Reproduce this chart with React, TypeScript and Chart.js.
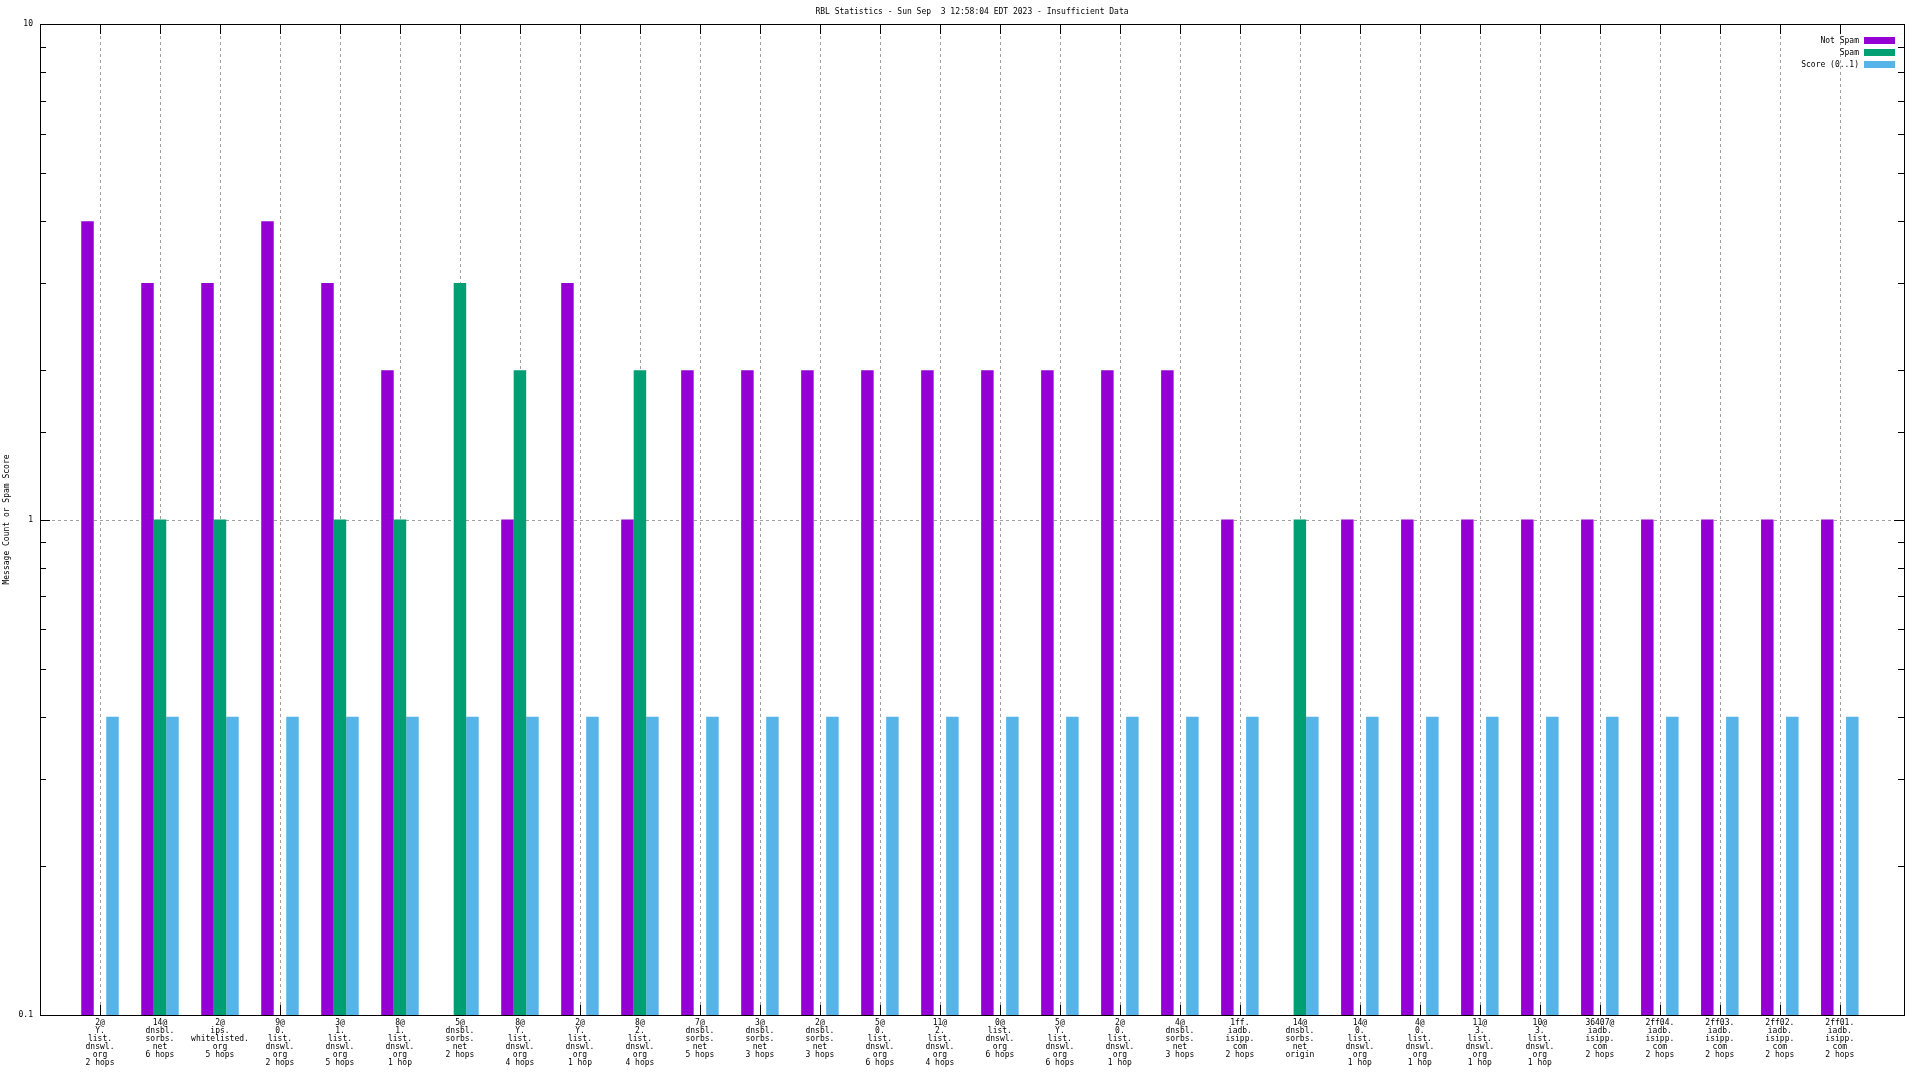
import React, { useEffect, useRef } from 'react';
import { Chart, registerables } from 'chart.js';

Chart.register(...registerables);

const TITLE = 'RBL Statistics - Sun Sep  3 12:58:04 EDT 2023 - Insufficient Data';
const Y_TITLE = 'Message Count or Spam Score';

const categories = [
  '2@\nY.\nlist.\ndnswl.\norg\n2 hops',
  '14@\ndnsbl.\nsorbs.\nnet\n6 hops',
  '2@\nips.\nwhitelisted.\norg\n5 hops',
  '9@\n0.\nlist.\ndnswl.\norg\n2 hops',
  '3@\n1.\nlist.\ndnswl.\norg\n5 hops',
  '8@\n1.\nlist.\ndnswl.\norg\n1 hop',
  '5@\ndnsbl.\nsorbs.\nnet\n2 hops',
  '8@\nY.\nlist.\ndnswl.\norg\n4 hops',
  '2@\nY.\nlist.\ndnswl.\norg\n1 hop',
  '8@\n2.\nlist.\ndnswl.\norg\n4 hops',
  '7@\ndnsbl.\nsorbs.\nnet\n5 hops',
  '3@\ndnsbl.\nsorbs.\nnet\n3 hops',
  '2@\ndnsbl.\nsorbs.\nnet\n3 hops',
  '5@\n0.\nlist.\ndnswl.\norg\n6 hops',
  '11@\n2.\nlist.\ndnswl.\norg\n4 hops',
  '0@\nlist.\ndnswl.\norg\n6 hops',
  '5@\nY.\nlist.\ndnswl.\norg\n6 hops',
  '2@\n0.\nlist.\ndnswl.\norg\n1 hop',
  '4@\ndnsbl.\nsorbs.\nnet\n3 hops',
  '1ff.\niadb.\nisipp.\ncom\n2 hops',
  '14@\ndnsbl.\nsorbs.\nnet\norigin',
  '14@\n0.\nlist.\ndnswl.\norg\n1 hop',
  '4@\n0.\nlist.\ndnswl.\norg\n1 hop',
  '11@\n3.\nlist.\ndnswl.\norg\n1 hop',
  '10@\n3.\nlist.\ndnswl.\norg\n1 hop',
  '36407@\niadb.\nisipp.\ncom\n2 hops',
  '2ff04.\niadb.\nisipp.\ncom\n2 hops',
  '2ff03.\niadb.\nisipp.\ncom\n2 hops',
  '2ff02.\niadb.\nisipp.\ncom\n2 hops',
  '2ff01.\niadb.\nisipp.\ncom\n2 hops',
];

const notSpam = [4, 3, 3, 4, 3, 2, null, 1, 3, 1, 2, 2, 2, 2, 2, 2, 2, 2, 2, 1, null, 1, 1, 1, 1, 1, 1, 1, 1, 1];
const spam = [null, 1, 1, null, 1, 1, 3, 2, null, 2, null, null, null, null, null, null, null, null, null, null, 1, null, null, null, null, null, null, null, null, null];
const score = [0.4, 0.4, 0.4, 0.4, 0.4, 0.4, 0.4, 0.4, 0.4, 0.4, 0.4, 0.4, 0.4, 0.4, 0.4, 0.4, 0.4, 0.4, 0.4, 0.4, 0.4, 0.4, 0.4, 0.4, 0.4, 0.4, 0.4, 0.4, 0.4, 0.4];

const seriesNames = ['Not Spam', 'Spam', 'Score (0..1)'];
const seriesColors = ['#9400d3', '#009e73', '#56b4e9'];

const FONT = '"DejaVu Sans Mono", monospace';

const isMajor = (v: number) => Math.abs(Math.log10(v) - Math.round(Math.log10(v))) < 1e-6;

const framePlugin = {
  id: 'gnuplotFrame',
  beforeDatasetsDraw(chart: any) {
    const { ctx, chartArea: a, scales } = chart;
    const xs = scales.x;
    const ys = scales.y;
    const line = (x1: number, y1: number, x2: number, y2: number) => {
      ctx.beginPath();
      ctx.moveTo(x1, y1);
      ctx.lineTo(x2, y2);
      ctx.stroke();
    };
    ctx.save();
    ctx.lineWidth = 1;
    // dashed grid
    ctx.strokeStyle = '#a0a0a0';
    ctx.setLineDash([3, 3]);
    categories.forEach((_, i) => {
      const px = Math.round(xs.getPixelForValue(i)) + 0.5;
      line(px, a.top, px, a.bottom);
    });
    ys.ticks.forEach((t: any) => {
      if (!isMajor(t.value)) return;
      const py = Math.round(ys.getPixelForValue(t.value)) + 0.5;
      if (py < a.top + 2 || py > a.bottom - 2) return;
      line(a.left, py, a.right, py);
    });
    // tick marks
    ctx.setLineDash([]);
    ctx.strokeStyle = '#000';
    categories.forEach((_, i) => {
      const px = Math.round(xs.getPixelForValue(i)) + 0.5;
      line(px, a.bottom, px, a.bottom - 10);
      line(px, a.top, px, a.top + 10);
    });
    ys.ticks.forEach((t: any) => {
      const py = Math.round(ys.getPixelForValue(t.value)) + 0.5;
      const len = isMajor(t.value) ? 10 : 6;
      line(a.left, py, a.left + len, py);
      line(a.right, py, a.right - len, py);
    });
    ctx.restore();
  },
  afterDatasetsDraw(chart: any) {
    const { ctx, chartArea: a } = chart;
    ctx.save();
    // border
    ctx.strokeStyle = '#000';
    ctx.lineWidth = 1;
    ctx.strokeRect(Math.round(a.left) + 0.5, Math.round(a.top) + 0.5, Math.round(a.right - a.left), Math.round(a.bottom - a.top));
    // legend
    ctx.font = `8px ${FONT}`;
    ctx.fillStyle = '#000';
    ctx.textAlign = 'right';
    ctx.textBaseline = 'middle';
    chart.data.datasets.forEach((ds: any, i: number) => {
      const cy = a.top + 16.5 + i * 12;
      ctx.fillStyle = '#000';
      ctx.fillText(ds.label, a.right - 45, cy);
      ctx.fillStyle = ds.backgroundColor;
      ctx.fillRect(a.right - 40, Math.round(cy - 3.5), 31, 7);
    });
    // title
    ctx.fillStyle = '#000';
    ctx.textAlign = 'center';
    ctx.fillText(TITLE, (a.left + a.right) / 2, 12);
    // y title
    ctx.translate(7, (a.top + a.bottom) / 2);
    ctx.rotate(-Math.PI / 2);
    ctx.fillText(Y_TITLE, 0, 0);
    ctx.restore();
  },
};

export default function App() {
  const ref = useRef<HTMLCanvasElement | null>(null);
  useEffect(() => {
    document.body.style.margin = '0';
    const canvas = ref.current;
    if (!canvas) return;
    const series = [notSpam, spam, score];
    const chart = new Chart(canvas, {
      type: 'bar',
      data: {
        datasets: series.map((vals, si) => ({
          label: seriesNames[si],
          data: vals.map((v, i) => ({ x: i, y: v })),
          backgroundColor: seriesColors[si],
          borderWidth: 0,
          categoryPercentage: 0.625,
          barPercentage: 1.0,
        })),
      } as any,
      options: {
        responsive: false,
        animation: false,
        layout: { padding: { top: 24, right: 16, left: 0, bottom: 0 } },
        plugins: {
          legend: { display: false },
          title: { display: false },
          tooltip: { enabled: false },
        },
        scales: {
          x: {
            type: 'linear',
            min: -1,
            max: 30.07,
            offset: false,
            grid: { display: false, drawTicks: false },
            border: { display: false },
            afterBuildTicks: (s: any) => {
              s.ticks = categories.map((_, i) => ({ value: i }));
            },
            afterFit: (s: any) => {
              s.height = 65;
            },
            ticks: {
              autoSkip: false,
              maxRotation: 0,
              minRotation: 0,
              padding: 4,
              color: '#000',
              font: { family: FONT, size: 8, lineHeight: 1 },
              callback: (v: any) => (categories[v] ? categories[v].split('\n') : ''),
            },
          },
          y: {
            type: 'logarithmic',
            min: 0.1,
            max: 10,
            grid: { display: false, drawTicks: false },
            border: { display: false },
            afterFit: (s: any) => {
              s.width = 40;
            },
            ticks: {
              autoSkip: false,
              padding: 7,
              color: '#000',
              font: { family: FONT, size: 8, lineHeight: 1 },
              callback: (v: any) => (isMajor(Number(v)) ? String(Number(v)) : ''),
            },
          },
        },
      } as any,
      plugins: [framePlugin],
    });
    return () => chart.destroy();
  }, []);
  return (
    <div style={{ width: 1920, height: 1080, background: '#fff' }}>
      <canvas ref={ref} width={1920} height={1080} style={{ display: 'block' }} />
    </div>
  );
}
